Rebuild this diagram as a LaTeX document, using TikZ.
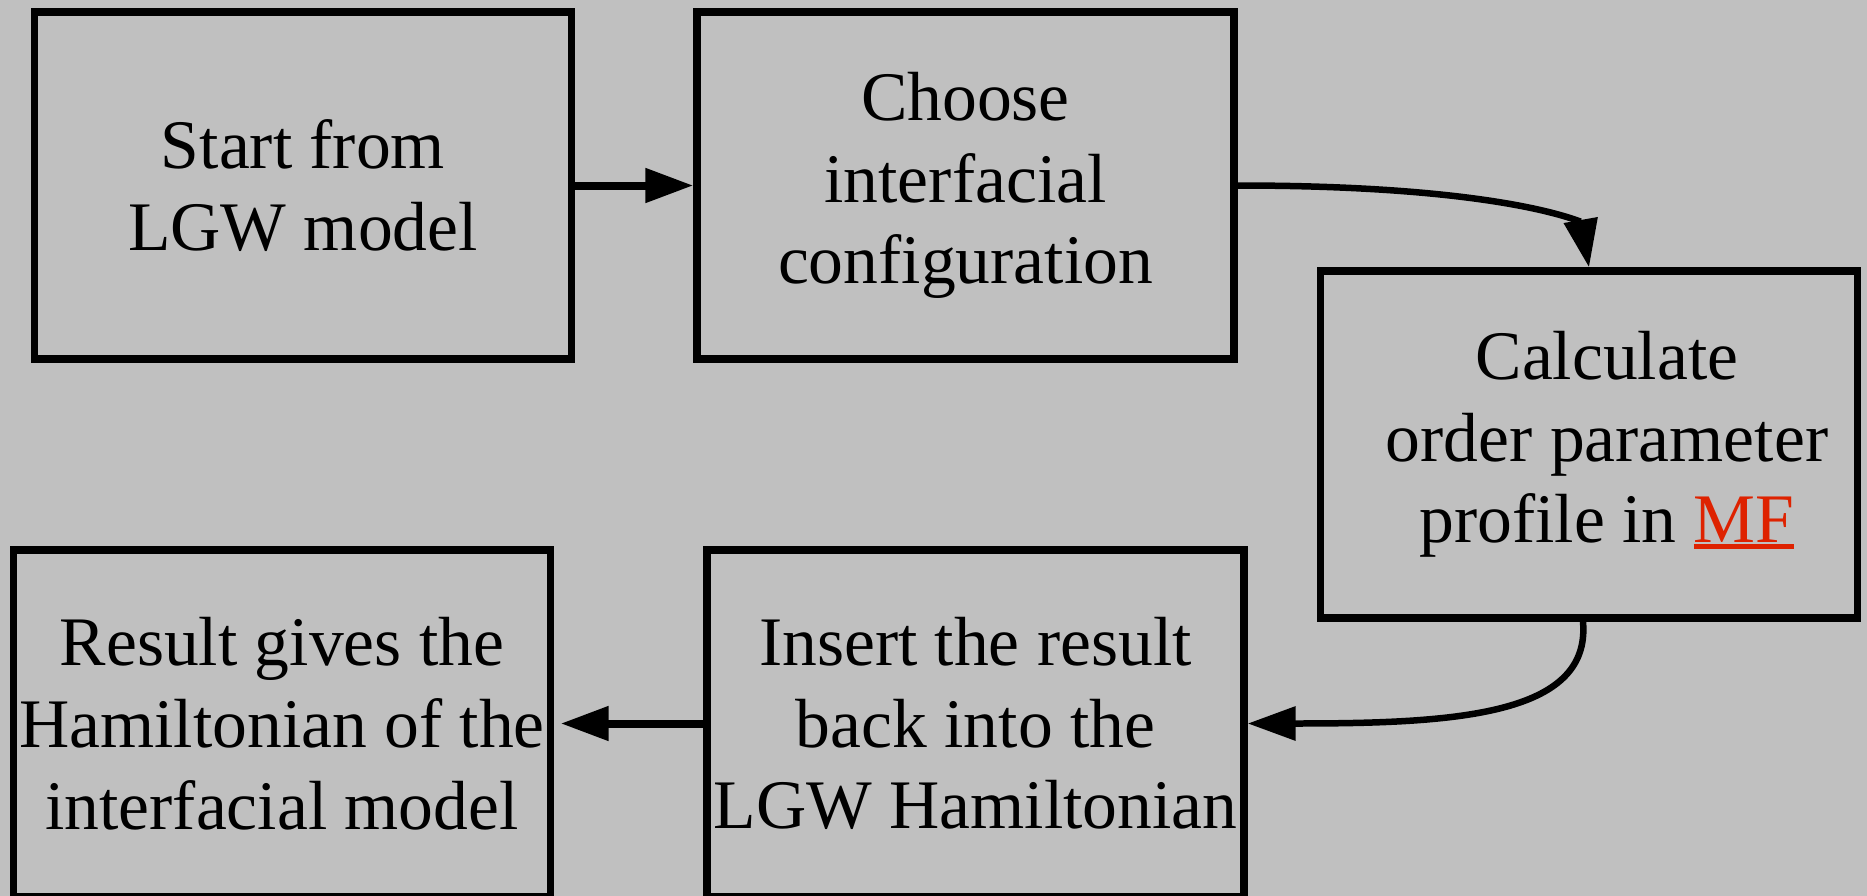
\documentclass[tikz,border=0pt]{standalone}
\usepackage{fontspec}
\setmainfont{Liberation Serif}
\usepackage[svgnames]{xcolor}
\usetikzlibrary{arrows.meta}
\definecolor{bggray}{RGB}{192,192,192}
\definecolor{mfred}{RGB}{222,34,0}
\newcommand{\mflink}[1]{{\color{mfred}\setbox0\hbox{#1}\rlap{\rule[-3.4pt]{\wd0}{2.8pt}}\box0}}
\newcommand{\rpad}{\hspace*{0.72cm}}

\begin{document}
\begin{tikzpicture}[x=0.02cm, y=-0.02cm, color=black,
      every node/.append style={font=\fontsize{39.6}{46.5}\selectfont, align=center},
      link/.style={-{Triangle[length=9.6mm,width=6.6mm]}, line width=1.6mm}]
    \tikzstyle{stepbox} = [draw, line width=1.5mm, minimum width=10.74cm, minimum height=6.94cm, inner sep=0pt]
    \useasboundingbox[fill=bggray] (0,0) rectangle (1867,896);
    \node [stepbox] (lgw) at (303,185.5) {Start from\\LGW model};
    \node [stepbox] (config) at (965.5,185.5) {Choose\\interfacial\\configuration};
    \node [stepbox] (profile) at (1589,444.5) {\rpad Calculate\\\rpad order parameter\\\rpad profile in \mflink{MF}};
    \node [stepbox] (insert) at (975.5,723.5) {Insert the result\\back into the\\LGW Hamiltonian};
    \node [stepbox] (result) at (282,723.5) {Result gives the\\Hamiltonian of the\\interfacial model};
    \draw [link] (lgw) -- (config);
    \draw [link, line width=1.3mm] (config.east) to[out=0, in=100, out distance=5.4cm, in distance=0.9cm] (profile.north);
    \draw [link, line width=1.3mm] ([xshift=-0.12cm]profile.south) to[out=-85, in=0, out distance=1.9cm, in distance=4.1cm] (insert.east);
    \draw [link, shorten >=0.13cm] (insert) -- (result);
  \end{tikzpicture}
\end{document}
